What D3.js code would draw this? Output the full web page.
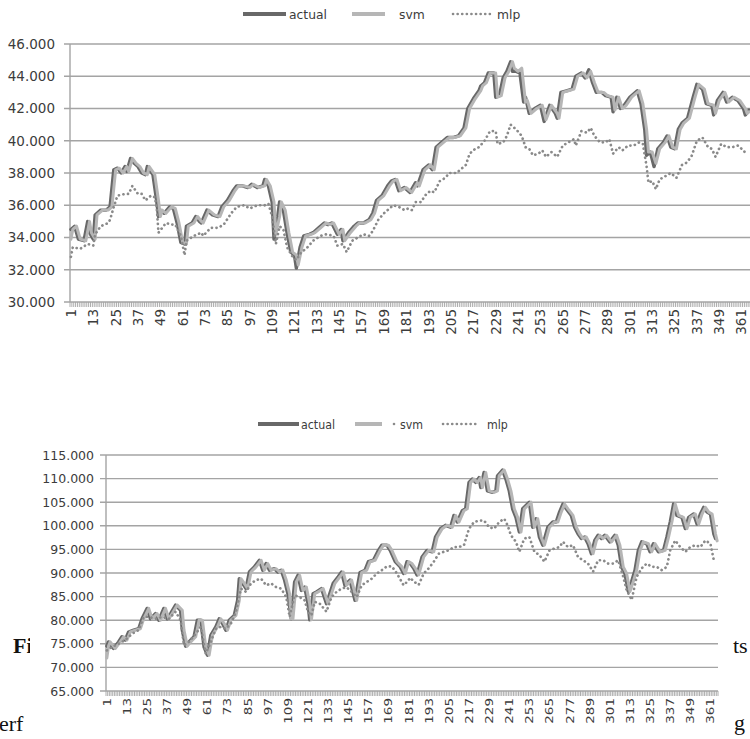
<!DOCTYPE html>
<html>
<head>
<meta charset="utf-8">
<script src="https://cdn.jsdelivr.net/npm/d3@7"></script>
<style>
  body { margin: 0; background: #fff; }
  svg { display: block; font-family: "DejaVu Sans", sans-serif; }
</style>
</head>
<body>
<svg width="750" height="739"></svg>
<script>
// days on the category axis
const dayCount = 365;
const dayLabels = [1, 13, 25, 37, 49, 61, 73, 85, 97, 109, 121, 133, 145, 157, 169, 181,
  193, 205, 217, 229, 241, 253, 265, 277, 289, 301, 313, 325, 337, 349, 361];
const topTicks = [30000, 32000, 34000, 36000, 38000, 40000, 42000, 44000, 46000];
const bottomTicks = [65000, 70000, 75000, 80000, 85000, 90000, 95000, 100000, 105000, 110000, 115000];
const seriesNames = ['actual', 'svm', 'mlp'];

// top chart, [day, value]
const topActual = [[1,34500],[3,34700],[5,33900],[8,33800],[10,35000],[11,34300],[13,33900],[14,35400],[17,35700],[20,35700],[22,35900],[24,38200],[26,38300],[28,38000],[30,38400],[31,38100],[33,38900],[35,38600],[37,38400],[39,38000],[41,37900],[42,38400],[45,37900],[47,36300],[48,35300],[49,35700],[51,35500],[54,35900],[56,35800],[58,34900],[60,33700],[62,33600],[63,34700],[66,34900],[68,35300],[70,35000],[71,34900],[74,35700],[77,35400],[80,35300],[82,35900],[85,36300],[88,36900],[90,37200],[93,37200],[96,37100],[98,37300],[101,37100],[104,37200],[105,37600],[107,37200],[109,36200],[110,33900],[112,35300],[113,36200],[115,35700],[117,34300],[119,33100],[121,32900],[122,32100],[124,33400],[126,34100],[129,34200],[131,34300],[134,34600],[137,34900],[139,34800],[141,34900],[144,34200],[146,34500],[147,33800],[150,34300],[153,34700],[155,34900],[158,34900],[161,35100],[163,35500],[165,36300],[168,36600],[171,37200],[173,37500],[175,37600],[177,36900],[180,37100],[183,36800],[186,37400],[187,37200],[190,38200],[193,38500],[195,38200],[197,39600],[200,39900],[203,40200],[206,40200],[209,40300],[212,40800],[214,42000],[217,42600],[220,43100],[221,43400],[223,43600],[225,44200],[228,44200],[229,42700],[231,42800],[233,43900],[235,44300],[237,44900],[238,44300],[240,44300],[242,44200],[244,42400],[245,42700],[247,41700],[250,42000],[253,42200],[255,41200],[258,42200],[261,41700],[262,41400],[264,43000],[267,43100],[270,43200],[272,44000],[275,44200],[277,43900],[279,44400],[281,43600],[283,43000],[286,43000],[288,42800],[291,42700],[292,41800],[294,42700],[296,42000],[298,42200],[301,42700],[303,42900],[305,43100],[307,42300],[309,40700],[310,39100],[312,39300],[314,38400],[316,39500],[319,39900],[321,40300],[323,39600],[325,39500],[327,40700],[329,41100],[332,41400],[335,42700],[337,43500],[340,43200],[342,42300],[345,42200],[346,41600],[348,42500],[351,43000],[353,42400],[356,42700],[359,42500],[362,42000],[363,41600],[365,41900]];
const topSvm = [[1,33900],[2,34500],[4,34700],[6,33900],[9,33800],[11,35000],[12,34300],[14,33900],[15,35400],[18,35700],[21,35700],[23,35900],[25,38200],[27,38300],[29,38000],[31,38400],[32,38100],[34,38900],[36,38600],[38,38400],[40,38000],[42,37900],[43,38400],[46,37900],[48,36300],[49,35300],[50,35700],[52,35500],[55,35900],[57,35800],[59,34900],[61,33700],[63,33600],[64,34700],[67,34900],[69,35300],[71,35000],[72,34900],[75,35700],[78,35400],[81,35300],[83,35900],[86,36300],[89,36900],[91,37200],[94,37200],[97,37100],[99,37300],[102,37100],[105,37200],[106,37600],[108,37200],[110,36200],[111,34200],[113,35300],[114,36200],[116,35700],[118,34300],[120,33100],[122,32900],[123,32300],[125,33400],[127,34100],[130,34200],[132,34300],[135,34600],[138,34900],[140,34800],[142,34900],[145,34200],[147,34500],[148,33800],[151,34300],[154,34700],[156,34900],[159,34900],[162,35100],[164,35500],[166,36300],[169,36600],[172,37200],[174,37500],[176,37600],[178,36900],[181,37100],[184,36800],[187,37400],[188,37200],[191,38200],[194,38500],[196,38200],[198,39600],[201,39900],[204,40200],[207,40200],[210,40300],[213,40800],[215,42000],[218,42600],[221,43100],[222,43400],[224,43600],[226,44200],[229,44200],[230,42700],[232,42800],[234,43900],[236,44300],[238,44900],[239,44500],[241,44300],[243,44500],[245,42400],[246,42500],[248,41700],[251,42000],[254,42200],[256,41300],[259,42200],[262,41700],[263,41400],[265,43000],[268,43100],[271,43200],[273,44000],[276,44200],[278,43900],[280,44300],[282,43600],[284,43000],[287,43000],[289,42800],[292,42700],[293,41900],[295,42700],[297,42000],[299,42200],[302,42700],[304,42900],[306,43100],[308,42300],[310,40700],[311,39300],[313,39300],[315,38600],[317,39500],[320,39900],[322,40300],[324,39600],[326,39500],[328,40700],[330,41100],[333,41400],[336,42700],[338,43500],[341,43200],[343,42300],[346,42200],[347,41700],[349,42500],[352,43000],[354,42400],[357,42700],[360,42500],[363,42000],[364,41700],[365,41800]];
const topMlp = [[1,32800],[2,33400],[6,33300],[10,33600],[13,33500],[14,34200],[17,34700],[21,34900],[22,35100],[24,35900],[26,36600],[30,36700],[32,36700],[34,37200],[37,36700],[39,36700],[41,36300],[44,36600],[46,36500],[47,35900],[48,34300],[50,34600],[52,34900],[55,34800],[57,34800],[60,34100],[62,32900],[63,33800],[67,34100],[71,34300],[72,34100],[76,34600],[80,34600],[83,34800],[87,35500],[90,35900],[94,36000],[97,35800],[101,36000],[105,36000],[107,36100],[109,35300],[111,33600],[113,34700],[115,34500],[117,33400],[120,32800],[122,32600],[124,33000],[128,33400],[131,33800],[135,34100],[138,34200],[142,34100],[144,33500],[147,33600],[149,33100],[152,33800],[155,34000],[158,34200],[161,34100],[163,34400],[166,35100],[169,35500],[172,35800],[174,36000],[177,35900],[180,35700],[182,35800],[184,35700],[186,36200],[189,36200],[191,36600],[194,36900],[196,36800],[199,37500],[202,37700],[204,38000],[208,38000],[211,38300],[213,38500],[215,39200],[218,39500],[220,39600],[223,40000],[226,40600],[229,40600],[230,39800],[233,39900],[235,40300],[237,41000],[240,40700],[243,40300],[245,39600],[247,39500],[249,39100],[252,39200],[254,39400],[256,39000],[259,39300],[262,39000],[265,39700],[268,39900],[271,40100],[272,39700],[275,40600],[278,40500],[280,40800],[282,40300],[285,39900],[288,39900],[290,40100],[292,39200],[295,39600],[297,39400],[300,39700],[303,39700],[306,39900],[308,39800],[310,38400],[311,37400],[313,37500],[315,37000],[317,37600],[320,37800],[323,38000],[326,37700],[329,38500],[331,38600],[334,39000],[337,40000],[340,40200],[343,39600],[345,39500],[347,39000],[350,39800],[353,39600],[356,39600],[359,39700],[362,39400],[364,39100]];

// bottom chart, [day, value]
const bottomActual = [[1,74500],[2,75400],[5,74000],[8,75400],[10,76500],[12,75800],[14,77500],[17,77900],[20,78200],[22,80300],[25,82500],[27,80300],[30,81400],[32,80000],[35,82500],[37,80300],[39,81400],[42,83200],[45,82100],[46,77900],[48,74500],[50,75400],[53,76500],[55,80000],[57,80000],[59,74300],[61,72600],[63,76800],[66,78600],[68,80300],[70,79300],[72,77900],[74,80000],[77,81000],[79,84200],[80,88800],[82,87800],[84,86700],[86,90200],[89,91300],[92,92700],[94,90600],[96,92000],[98,90600],[101,90900],[103,90200],[105,90600],[107,88500],[109,85600],[111,80300],[113,88100],[115,89500],[117,86300],[119,87000],[121,83500],[122,80100],[124,85600],[126,86000],[129,86700],[132,83500],[136,87800],[139,89200],[141,90200],[143,87400],[146,88500],[149,84200],[152,90100],[155,90600],[157,92400],[160,92700],[163,94800],[165,95900],[168,95900],[170,94800],[173,92400],[176,91300],[178,89900],[180,92400],[182,92000],[184,91000],[186,89600],[189,93400],[192,94800],[195,94500],[197,97600],[200,99400],[203,100100],[206,99700],[208,102200],[210,100800],[213,103200],[215,103600],[217,109200],[219,109900],[221,109200],[223,110200],[224,108100],[226,111300],[228,107400],[231,107100],[233,107400],[234,110600],[237,111800],[239,109900],[241,107400],[243,103600],[245,101800],[247,98700],[249,103600],[251,104300],[253,105000],[255,99700],[257,101500],[259,97600],[261,95900],[264,99700],[267,100800],[269,100800],[271,102900],[273,104600],[275,103600],[278,102200],[280,99700],[282,98300],[284,97300],[286,97600],[288,96200],[290,94100],[292,96900],[294,98000],[296,97300],[298,98000],[301,96600],[304,98000],[306,95900],[308,91300],[310,89900],[312,86100],[314,88200],[316,90600],[318,94800],[320,96600],[323,96200],[325,94500],[327,96200],[330,94500],[333,94800],[335,97600],[337,100800],[339,104600],[341,102200],[344,101800],[346,99400],[348,101800],[351,102500],[353,100400],[355,102500],[357,103900],[359,102900],[361,102500],[363,98300],[364,97300]];
const bottomSvm = [[1,72000],[2,74500],[3,75400],[6,74000],[9,75400],[11,76500],[13,75800],[15,77500],[18,77900],[21,78200],[23,80300],[26,82500],[28,80300],[31,81400],[33,80000],[36,82500],[38,80300],[40,81400],[43,83200],[46,82100],[47,77900],[49,74500],[51,75400],[54,76500],[56,80000],[58,80000],[60,74300],[62,72600],[64,76800],[67,78600],[69,80300],[71,79300],[73,77900],[75,80000],[78,81000],[80,84200],[81,88800],[83,87800],[85,86700],[87,90200],[90,91300],[93,92700],[95,90600],[97,92000],[99,90600],[102,90900],[104,90200],[106,90600],[108,88500],[110,85600],[111,80300],[112,80300],[114,88100],[116,89500],[118,86300],[120,87000],[122,83500],[123,80100],[125,85600],[127,86000],[130,86700],[133,83500],[137,87800],[140,89200],[142,90200],[144,87400],[147,88500],[150,84200],[153,90100],[156,90600],[158,92400],[161,92700],[164,94800],[166,95900],[169,95900],[171,94800],[174,92400],[177,91300],[179,89900],[181,92400],[183,92000],[185,91000],[187,89600],[190,93400],[193,94800],[196,94500],[198,97600],[201,99400],[204,100100],[207,99700],[209,102200],[211,100800],[214,103200],[216,103600],[218,109200],[220,109900],[222,109200],[224,110200],[225,108100],[227,111300],[229,107400],[232,107100],[234,107400],[235,110600],[238,111800],[240,109900],[242,107400],[244,103600],[246,101800],[248,98700],[250,103600],[252,104300],[254,105000],[256,99700],[258,101500],[260,97600],[262,95900],[265,99700],[268,100800],[270,100800],[272,102900],[274,104600],[276,103600],[279,102200],[281,99700],[283,98300],[285,97300],[287,97600],[289,96200],[291,94100],[293,96900],[295,98000],[297,97300],[299,98000],[302,96600],[305,98000],[307,95900],[309,91300],[311,89900],[313,86100],[315,88200],[317,90600],[319,94800],[321,96600],[324,96200],[326,94500],[328,96200],[331,94500],[334,94800],[336,97600],[338,100800],[340,104600],[342,102200],[345,101800],[347,99400],[349,101800],[352,102500],[354,100400],[356,102500],[358,103900],[360,102900],[362,102500],[364,98300],[365,96800]];
const bottomMlp = [[1,73600],[4,74300],[8,75000],[12,75800],[16,77100],[20,77900],[23,80700],[26,80700],[30,80300],[34,80700],[38,80300],[42,81800],[45,80000],[47,74700],[50,75400],[54,77100],[57,78600],[60,72900],[63,75400],[66,78200],[69,78600],[72,78200],[75,79300],[78,81800],[81,86700],[84,86000],[87,87800],[90,88500],[93,88800],[96,87400],[99,87800],[102,87000],[105,86700],[108,84900],[110,80700],[113,85300],[116,84900],[119,84200],[121,81800],[123,81000],[125,83900],[128,83500],[132,81800],[135,84900],[138,86000],[141,86700],[144,87000],[147,86000],[150,84900],[153,87400],[156,88100],[159,88800],[162,89900],[165,90600],[168,91400],[171,91400],[174,89900],[178,87400],[180,88100],[182,89000],[184,88200],[187,87500],[190,89900],[193,91000],[196,92400],[199,94100],[202,94500],[205,94800],[208,95500],[211,95500],[214,95900],[217,99400],[220,100800],[223,101100],[226,101100],[229,99700],[232,99400],[235,100800],[238,101500],[240,100100],[242,98000],[245,96600],[247,94500],[250,97300],[253,97600],[256,94500],[259,93800],[262,92400],[265,94800],[268,95200],[271,95500],[273,96600],[276,95500],[279,95900],[282,93400],[285,92700],[288,92000],[291,90300],[294,92700],[297,92700],[300,92000],[303,92000],[306,92700],[309,89200],[311,86400],[314,84300],[317,89200],[320,91000],[323,92000],[326,91300],[329,91300],[332,90600],[335,91300],[337,94800],[340,96900],[343,95500],[346,94500],[349,95500],[352,95900],[355,95500],[358,96900],[361,96200],[363,92700]];

const svg = d3.select('svg');
const fmt = d3.formatLocale({decimal: ',', thousands: '.', grouping: [3], currency: ['', '']}).format(',.0f');
const days = d3.range(1, dayCount + 1);

const style = {
  actual: {color: '#686868', width: 3.4, dash: null},
  svm: {color: '#b6b6b6', width: 3, dash: null},
  mlp: {color: '#8a8a8a', width: 2.7, dash: '0.1,4.5'}
};
const gridColor = '#a4a4a4';
const textColor = '#3c3c3c';

// bits of the page text around the second chart
const page = svg.append('g').attr('font-family', '"Liberation Serif", serif').attr('fill', '#111');
page.append('text').attr('x', 13).attr('y', 653).attr('font-size', 22).attr('font-weight', 'bold').text('Fi');
page.append('text').attr('x', 733).attr('y', 653).attr('font-size', 22).text('ts');
page.append('text').attr('x', -1).attr('y', 731).attr('font-size', 22).text('erf');
page.append('text').attr('x', 734).attr('y', 730).attr('font-size', 22).text('g');

function drawChart(cfg) {
  const g = svg.append('g');
  g.append('rect').attr('x', cfg.boxX).attr('y', cfg.boxY)
    .attr('width', cfg.boxW).attr('height', cfg.boxH).attr('fill', '#fff');

  const x = d3.scaleLinear().domain([0.5, dayCount + 0.5]).range([cfg.left, cfg.right]);
  const y = d3.scaleLinear().domain(d3.extent(cfg.ticks)).range([cfg.bottom, cfg.top]);

  g.selectAll('.grid').data(cfg.ticks).enter().append('line')
    .attr('x1', cfg.left - 6).attr('x2', cfg.right)
    .attr('y1', d => y(d)).attr('y2', d => y(d))
    .attr('stroke', gridColor).attr('stroke-width', 1.4);

  g.append('line')
    .attr('x1', cfg.left).attr('x2', cfg.left)
    .attr('y1', cfg.top).attr('y2', cfg.bottom)
    .attr('stroke', gridColor).attr('stroke-width', 1.4);

  // comb of category ticks
  g.selectAll('.comb').data([0].concat(days)).enter().append('line')
    .attr('x1', d => x(d + 0.5)).attr('x2', d => x(d + 0.5))
    .attr('y1', cfg.bottom).attr('y2', cfg.bottom + 5)
    .attr('stroke', gridColor).attr('stroke-width', 0.9);

  g.selectAll('.ylab').data(cfg.ticks).enter().append('text')
    .attr('x', cfg.labelRight).attr('y', d => y(d))
    .attr('text-anchor', 'end').attr('dy', '0.36em')
    .attr('font-size', cfg.yFont).attr('fill', textColor)
    .text(d => fmt(d));

  g.selectAll('.xlab').data(dayLabels).enter().append('text')
    .attr('transform', d => 'translate(' + x(d) + ',' + (cfg.bottom + 7) + ') rotate(-90) scale(1,' + cfg.textScale + ')')
    .attr('text-anchor', 'end').attr('dy', '0.36em')
    .attr('font-size', cfg.xFont).attr('fill', textColor)
    .text(d => d);

  // actual first, svm over it, mlp dots on top
  const line = d3.line().x(d => x(d[0])).y(d => y(d[1]));
  cfg.series.forEach(function(s, i) {
    const st = style[seriesNames[i]];
    g.append('path').datum(s)
      .attr('d', line)
      .attr('fill', 'none')
      .attr('stroke', st.color)
      .attr('stroke-width', st.width)
      .attr('stroke-linejoin', 'round')
      .attr('stroke-linecap', 'round')
      .attr('stroke-dasharray', st.dash);
  });

  // legend
  const lg = g.append('g').attr('font-size', cfg.legendFont).attr('fill', textColor);
  cfg.legend.forEach(function(it, i) {
    const st = style[seriesNames[i]];
    lg.append('line')
      .attr('x1', it.x1).attr('x2', it.x2).attr('y1', cfg.legendY).attr('y2', cfg.legendY)
      .attr('stroke', st.color).attr('stroke-width', st.dash ? 2.6 : 4)
      .attr('stroke-linecap', st.dash ? 'round' : 'butt')
      .attr('stroke-dasharray', st.dash);
    lg.append('text')
      .attr('transform', 'translate(' + it.tx + ',' + cfg.legendY + ') scale(' + cfg.legendScale + ',1)')
      .attr('dy', '0.36em').text(seriesNames[i]);
  });
  return g;
}

drawChart({
  boxX: 0, boxY: 0, boxW: 750, boxH: 345,
  left: 70, right: 750, top: 44, bottom: 302,
  ticks: topTicks, labelRight: 55, yFont: 13.5, xFont: 13.5, textScale: 1,
  series: [topActual, topSvm, topMlp],
  legendY: 14, legendFont: 13, legendScale: 0.95,
  legend: [{x1: 243, x2: 286, tx: 289}, {x1: 352, x2: 385, tx: 399}, {x1: 453, x2: 493, tx: 497}]
});

const bottom = drawChart({
  boxX: 30, boxY: 400, boxW: 694, boxH: 339,
  left: 106, right: 718, top: 455, bottom: 691,
  ticks: bottomTicks, labelRight: 94, yFont: 12.5, xFont: 13.5, textScale: 0.8,
  series: [bottomActual, bottomSvm, bottomMlp],
  legendY: 424, legendFont: 13, legendScale: 0.85,
  legend: [{x1: 258, x2: 299, tx: 301}, {x1: 355, x2: 382, tx: 400}, {x1: 443, x2: 479, tx: 487}]
});
// stray dot in front of "svm" in the lower legend
bottom.append('circle').attr('cx', 394).attr('cy', 424).attr('r', 1.3).attr('fill', style.mlp.color);
</script>
</body>
</html>
